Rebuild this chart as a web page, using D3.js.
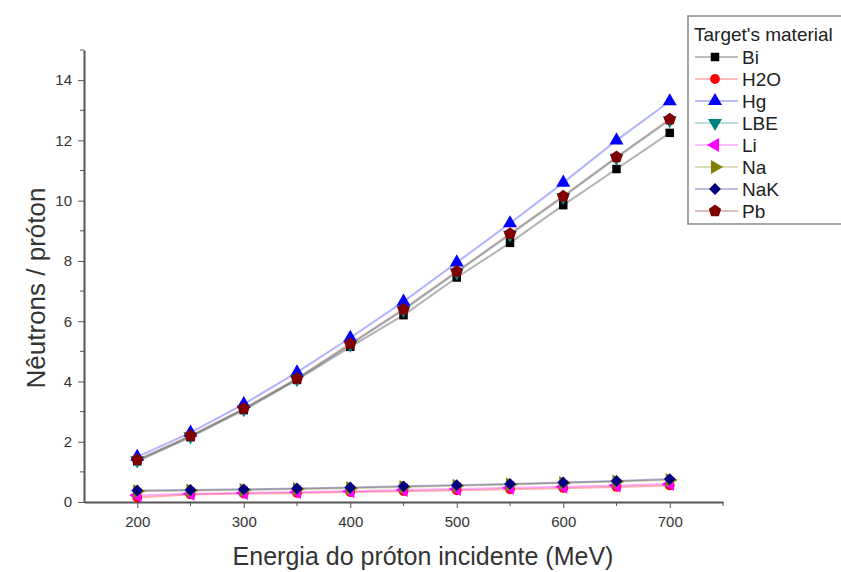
<!DOCTYPE html>
<html>
<head>
<meta charset="utf-8">
<script src="https://cdn.jsdelivr.net/npm/d3@7"></script>
<style>
  body { margin: 0; background: #fff; }
  svg { font-family: "Liberation Sans", Arial, sans-serif; }
  .axis path, .axis line { stroke: #555; }
  .axis text { fill: #333; font-size: 15px; }
</style>
</head>
<body>
<div id="chart"></div>
<script>
// data
const energies = [200, 250, 300, 350, 400, 450, 500, 550, 600, 650, 700];
const materials = ["Bi", "H2O", "Hg", "LBE", "Li", "Na", "NaK", "Pb"];
const biValues  = [1.35, 2.15, 3.05, 4.05, 5.15, 6.2, 7.45, 8.6, 9.85, 11.05, 12.25];
const h2oValues = [0.15, 0.25, 0.28, 0.30, 0.33, 0.36, 0.39, 0.42, 0.46, 0.50, 0.55];
const hgValues  = [1.5, 2.3, 3.25, 4.3, 5.45, 6.65, 7.95, 9.25, 10.6, 12.0, 13.3];
const lbeValues = [1.38, 2.18, 3.08, 4.08, 5.22, 6.37, 7.62, 8.87, 10.12, 11.42, 12.67];
const liValues  = [0.22, 0.27, 0.30, 0.33, 0.36, 0.40, 0.43, 0.47, 0.51, 0.55, 0.60];
const naValues  = [0.36, 0.38, 0.40, 0.43, 0.46, 0.50, 0.54, 0.58, 0.63, 0.68, 0.73];
const nakValues = [0.38, 0.40, 0.42, 0.45, 0.48, 0.52, 0.56, 0.60, 0.65, 0.70, 0.76];
const pbValues  = [1.4, 2.2, 3.1, 4.1, 5.25, 6.4, 7.65, 8.9, 10.15, 11.45, 12.7];
const xTicks = [200, 300, 400, 500, 600, 700];
const yTicks = [0, 2, 4, 6, 8, 10, 12, 14];

const seriesValues = [biValues, h2oValues, hgValues, lbeValues, liValues, naValues, nakValues, pbValues];
const colors = ["#000000", "#ff0000", "#0000ff", "#008080", "#ff00ff", "#808000", "#000080", "#800000"];

(function () {
  const svg_width = 841, svg_height = 572;

  const x = d3.scaleLinear().domain([150, 750]).range([84, 723]);
  const y = d3.scaleLinear().domain([0, 15]).range([502, 50]);

  const svg = d3.select("#chart").append("svg")
    .attr("width", svg_width)
    .attr("height", svg_height);

  // marker shapes
  const tri = d3.symbol().type(d3.symbolTriangle).size(85);
  const shapes = [
    d3.symbol().type(d3.symbolSquare).size(72)(),
    d3.symbol().type(d3.symbolCircle).size(75)(),
    tri(), tri(), tri(), tri(),
    d3.symbol().type(d3.symbolDiamond2).size(90)(),
    pentagon(6.5)
  ];
  const rotations = [0, 0, 0, 180, -90, 90, 0, 0];

  function pentagon(r) {
    const pts = d3.range(5).map(i => {
      const a = -Math.PI / 2 + i * 2 * Math.PI / 5;
      return [r * Math.cos(a), r * Math.sin(a)];
    });
    return "M" + pts.map(p => p.join(",")).join("L") + "Z";
  }

  // x Axis
  const xAxis = svg.append("g")
    .attr("class", "axis")
    .attr("transform", "translate(0," + y(0) + ")")
    .call(d3.axisBottom(x).tickValues(xTicks).tickSize(6).tickPadding(8).tickSizeOuter(0));
  xAxis.selectAll("g.minor")
    .data(d3.range(250, 751, 100))
    .enter().append("line")
    .attr("x1", d => x(d)).attr("x2", d => x(d))
    .attr("y1", 0).attr("y2", 4)
    .attr("stroke", "#555");
  xAxis.select(".domain").attr("stroke-width", 2);

  // y Axis
  const yAxis = svg.append("g")
    .attr("class", "axis")
    .attr("transform", "translate(" + x(150) + ",0)")
    .call(d3.axisLeft(y).tickValues(yTicks).tickSize(6).tickPadding(6).tickSizeOuter(0));
  yAxis.selectAll("g.minor")
    .data(d3.range(1, 16, 2))
    .enter().append("line")
    .attr("x1", 0).attr("x2", -4)
    .attr("y1", d => y(d)).attr("y2", d => y(d))
    .attr("stroke", "#555");
  yAxis.select(".domain").attr("stroke-width", 2);

  // lines + markers
  const line = d3.line().x((d, i) => x(energies[i])).y(d => y(d));
  seriesValues.forEach((vals, k) => {
    svg.append("path")
      .attr("d", line(vals))
      .attr("fill", "none")
      .attr("stroke", colors[k])
      .attr("stroke-opacity", 0.3)
      .attr("stroke-width", 2);
  });
  seriesValues.forEach((vals, k) => {
    svg.append("g").selectAll("path")
      .data(vals)
      .enter().append("path")
      .attr("d", shapes[k])
      .attr("transform", (d, i) => "translate(" + x(energies[i]) + "," + y(d) + ") rotate(" + rotations[k] + ")")
      .attr("fill", colors[k]);
  });

  // axis titles
  svg.append("text")
    .attr("transform", "translate(45,288) rotate(-90)")
    .attr("text-anchor", "middle")
    .attr("font-size", 26)
    .attr("fill", "#333")
    .text("Nêutrons / próton");
  svg.append("text")
    .attr("x", 423).attr("y", 565)
    .attr("text-anchor", "middle")
    .attr("font-size", 25)
    .attr("fill", "#333")
    .text("Energia do próton incidente (MeV)");

  // legend
  const legend = svg.append("g").attr("transform", "translate(688,16)");
  legend.append("rect")
    .attr("x", 0).attr("y", 0)
    .attr("width", 170).attr("height", 208)
    .attr("fill", "#fff")
    .attr("stroke", "#888")
    .attr("stroke-width", 1.5);
  legend.append("text")
    .attr("x", 6).attr("y", 25)
    .attr("font-size", 19)
    .attr("fill", "#222")
    .text("Target's material");
  materials.forEach((m, k) => {
    const ly = 41 + k * 22;
    legend.append("line")
      .attr("x1", 7).attr("x2", 50)
      .attr("y1", ly).attr("y2", ly)
      .attr("stroke", colors[k]).attr("stroke-opacity", 0.35).attr("stroke-width", 1.5);
    legend.append("path")
      .attr("d", shapes[k])
      .attr("transform", "translate(27," + ly + ") rotate(" + rotations[k] + ")")
      .attr("fill", colors[k]);
    legend.append("text")
      .attr("x", 54).attr("y", ly + 7)
      .attr("font-size", 19)
      .attr("fill", "#222")
      .text(m);
  });
})();
</script>
</body>
</html>
